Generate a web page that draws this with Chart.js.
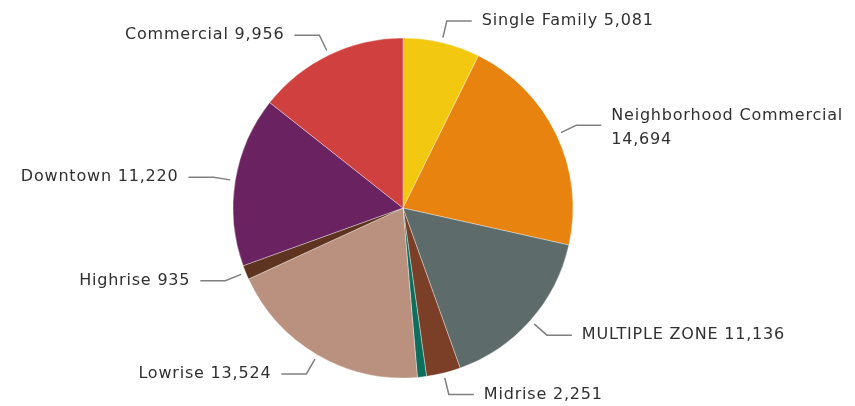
<!DOCTYPE html>
<html>
<head>
<meta charset="utf-8">
<script src="https://cdn.jsdelivr.net/npm/chart.js@4.4.1/dist/chart.umd.min.js"></script>
<style>
  html, body { margin: 0; padding: 0; background: #ffffff; }
  #wrap { width: 855px; height: 406px; }
</style>
</head>
<body>
<div id="wrap"><canvas id="zonePie" width="855" height="406"></canvas></div>
<script>
// zone categories, clockwise from 12 o'clock
var zoneNames = ["Single Family", "Neighborhood Commercial", "MULTIPLE ZONE", "Midrise", "Other", "Lowrise", "Highrise", "Downtown", "Commercial"];
var zoneValues = [5081, 14694, 11136, 2251, 600, 13524, 935, 11220, 9956];
// the thin teal wedge has no label in the picture
var zoneShowLabel = [true, true, true, true, false, true, true, true, true];
var zoneColors = ["#F2C811", "#E8830F", "#5E6B6B", "#7B3F28", "#0E6E5E", "#B9917E", "#5E3320", "#6B2260", "#D0403E"];

var labelFont = "16px 'DejaVu Sans'";
var labelColor = "#303030";
var lineColor = "#808080";

function fmt(n) {
    return n.toLocaleString("en-US");
}

// draws leader lines + data labels outside the pie
var outsideLabels = {
    id: "outsideLabels",
    afterDatasetsDraw: function (chart) {
        var ctx = chart.ctx;
        var meta = chart.getDatasetMeta(0);
        ctx.save();
        ctx.font = labelFont;
        ctx.letterSpacing = "0.8px";
        ctx.fillStyle = labelColor;
        ctx.strokeStyle = lineColor;
        ctx.lineWidth = 1.5;
        ctx.textBaseline = "middle";
        for (var i = 0; i < meta.data.length; i++) {
            if (!zoneShowLabel[i]) continue;
            var arc = meta.data[i];
            var p = arc.getProps(["x", "y", "startAngle", "endAngle", "outerRadius"], true);
            var mid = (p.startAngle + p.endAngle) / 2;
            var cx = Math.cos(mid), cy = Math.sin(mid);
            var x0 = p.x + cx * (p.outerRadius + 5);
            var y0 = p.y + cy * (p.outerRadius + 5);
            var x1 = p.x + cx * (p.outerRadius + 22);
            var y1 = p.y + cy * (p.outerRadius + 22);
            var right = cx >= 0;
            var x2 = right ? x1 + 25 : x1 - 25;
            ctx.beginPath();
            ctx.moveTo(x0, y0);
            ctx.lineTo(x1, y1);
            ctx.lineTo(x2, y1);
            ctx.stroke();

            var tx = right ? x2 + 10 : x2 - 10;
            ctx.textAlign = right ? "left" : "right";
            var txt = zoneNames[i] + " " + fmt(zoneValues[i]);
            var w = ctx.measureText(txt).width;
            if (right && tx + w > chart.width - 2) {
                ctx.fillText(zoneNames[i], tx, y1 - 9);
                ctx.fillText(fmt(zoneValues[i]), tx, y1 + 15);
            } else {
                ctx.fillText(txt, tx, y1);
            }
        }
        ctx.restore();
    }
};

var chart = new Chart(document.getElementById("zonePie"), {
    type: "pie",
    data: {
        labels: zoneNames,
        datasets: [{
            data: zoneValues,
            backgroundColor: zoneColors,
            borderColor: "rgba(255,255,255,0.6)",
            borderWidth: 0.6
        }]
    },
    options: {
        responsive: false,
        animation: false,
        radius: 170,
        layout: { padding: { left: 0, right: 49, top: 38, bottom: 28 } },
        plugins: {
            legend: { display: false },
            tooltip: { enabled: false }
        }
    },
    plugins: [outsideLabels]
});
</script>
</body>
</html>
